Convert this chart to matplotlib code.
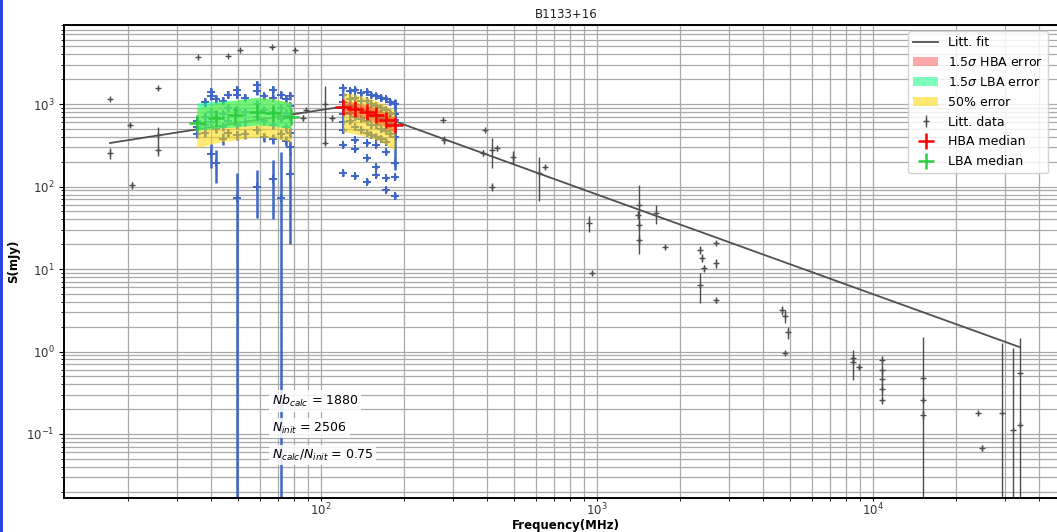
import matplotlib
matplotlib.use("Agg")
import numpy as np
import matplotlib.pyplot as plt
from matplotlib.patches import Patch, Rectangle
from matplotlib.lines import Line2D

# ---- literature spectrum fit (log-log nodes, MHz / mJy) ----
fit_freq = [17.2, 60, 100, 125, 150, 200, 1000, 34000]
fit_flux = [337, 649, 848, 946, 810, 563, 80, 1.13]

# ---- literature flux densities ----
lit_freq = [17.2, 17.2, 20.3, 20.6, 25.6, 25.6, 25.6, 35.8, 46, 50.9, 66.4, 80.5,
            103, 103, 109.6, 86, 88, 277, 280, 393, 417, 385, 434, 417, 496, 617, 649,
            935, 960, 1419, 1419, 1419, 1408, 1637, 1763, 2361, 2400, 2440, 2361,
            2697, 2697, 2697, 4680, 4800, 4920, 4800, 8470, 8470, 8870,
            10800, 10800, 10800, 10800, 10800, 15200, 15200, 15200,
            24000, 24800, 29300, 32100, 34100, 34100]
lit_flux = [1150, 255, 555, 104, 1560, 421, 277, 3710, 3820, 4520, 4910, 4520,
            1000, 337, 677, 677, 846, 640, 366, 484, 277, 255, 293, 99, 228, 146, 172,
            36, 8.9, 60, 34, 22.5, 45, 47.6, 18.4, 17.2, 13.6, 10.3, 6.4,
            20.6, 11.8, 4.2, 3.2, 2.7, 1.7, 0.96, 0.83, 0.75, 0.65,
            0.79, 0.6, 0.46, 0.35, 0.26, 0.48, 0.26, 0.17,
            0.18, 0.068, 0.18, 0.113, 0.55, 0.13]
lit_err = [20, 40, 30, 10, 60, 110, 40, 100, 100, 150, 200, 150,
           650, 20, 60, 50, 40, 20, 40, 20, 110, 20, 20, 10, 40, 80, 10,
           8, 0.5, 45, 5, 3, 5, 12, 1, 2, 1.5, 1, 2.5,
           1, 1.5, 0.3, 0.4, 0.5, 0.3, 0.05, 0.1, 0.3, 0.05,
           0.1, 0.08, 0.1, 0.06, 0.03, 1.0, 0.02, 0.02,
           0.01, 0.005, 1.1, 1.0, 0.9, 0.01]

# ---- LBA measurements ----
lba_freq = ([35.5] * 3 + [38] * 4 + [40] * 5 + [41.7] * 4 + [44] * 4 + [46] * 4 +
            [49.6] * 6 + [53] * 4 + [58.7] * 6 + [62] * 4 + [67] * 6 + [71.6] * 5 +
            [74.5] * 4 + [77] * 6)
lba_flux = [620, 520, 430,
            1050, 700, 560, 450,
            1400, 1250, 800, 600, 250,
            1150, 700, 500, 195,
            1100, 750, 530, 380,
            1300, 900, 620, 450,
            1500, 1300, 850, 560, 420, 72,
            1200, 800, 600, 430,
            1700, 1450, 1000, 700, 480, 100,
            1250, 850, 620, 400,
            1500, 1200, 800, 560, 380, 125,
            1300, 900, 650, 430, 72,
            1150, 780, 520, 360,
            1250, 950, 700, 450, 300, 140]
lba_err = [60, 50, 40,
           120, 70, 60, 50,
           150, 130, 80, 60, 80,
           120, 80, 60, 85,
           120, 70, 60, 60,
           130, 90, 60, 50,
           150, 120, 80, 60, 50, 74,
           120, 80, 60, 50,
           180, 150, 100, 70, 50, 58,
           120, 80, 60, 50,
           150, 120, 80, 60, 50, 85,
           130, 90, 60, 50, 190,
           120, 80, 60, 50,
           130, 100, 70, 60, 60, 120]

# ---- HBA measurements ----
hba_freq = ([120] * 9 + [127] * 5 + [133] * 8 + [140] * 5 + [147] * 8 + [152] * 5 +
            [158] * 8 + [165] * 5 + [172] * 8 + [178] * 4 + [185] * 8)
hba_flux = [1550, 1300, 1050, 900, 750, 600, 480, 318, 146,
            1450, 1150, 950, 780, 620,
            1500, 1200, 900, 700, 520, 366, 285, 134,
            1350, 1100, 850, 650, 480,
            1400, 1100, 800, 620, 450, 337, 222, 114,
            1300, 1000, 750, 560, 420,
            1250, 950, 720, 560, 400, 318, 172, 138,
            1200, 900, 680, 500, 380,
            1150, 850, 620, 470, 350, 262, 127, 91,
            1050, 780, 580, 430,
            1000, 750, 550, 400, 640, 193, 130, 77]
hba_err = [120, 100, 80, 70, 60, 50, 40, 15, 10,
           110, 90, 70, 60, 50,
           120, 90, 70, 60, 40, 15, 12, 8,
           100, 80, 70, 50, 40,
           110, 90, 60, 50, 40, 15, 10, 8,
           100, 80, 60, 45, 35,
           100, 80, 60, 45, 35, 15, 10, 8,
           100, 80, 55, 40, 30,
           100, 75, 50, 40, 30, 12, 8, 6,
           90, 70, 50, 35,
           150, 65, 45, 35, 480, 10, 8, 6]

# ---- medians and 1.5 sigma envelopes ----
lba_med_freq = [35.5, 41.5, 49, 58.5, 67, 78]
lba_med = [588, 677, 736, 800, 778, 695]
lba_lo = [480, 510, 526, 557, 540, 505]
lba_hi = [1030, 1080, 1120, 1210, 1150, 1030]

hba_med_freq = [120, 133, 147, 158, 172, 185]
hba_med = [920, 870, 800, 736, 640, 557]
hba_lo = [760, 720, 660, 600, 520, 450]
hba_hi = [1100, 1040, 960, 890, 780, 690]

n_calc = 1880
n_init = 2506

# ---- styling ----
BLUE = "#3f66c6"
GREY = "#4d4d4d"
C_HBA = "red"
C_LBA = "springgreen"
C_50 = "gold"

W, H = 1057, 532
fig = plt.figure(figsize=(W / 100, H / 100), dpi=100)
fig.patch.set_facecolor("white")
ax = fig.add_axes([64 / W, 34 / H, (1067.6 - 64) / W, 473 / H])
ax.set_xscale("log", nonpositive="clip")
ax.set_yscale("log", nonpositive="clip")
ax.set_xlim(11.72, 50700)
ax.set_ylim(0.01675, 9080)

ax.set_axisbelow(True)
ax.grid(True, which="both", color="#a9a9a9", lw=0.9)

# fit
ax.plot(fit_freq, fit_flux, color="#505050", lw=1.3, zorder=2)

# individual measurements
ax.errorbar(lba_freq, lba_flux, yerr=lba_err, fmt="+", color=BLUE, ms=5.5,
            mew=1.4, elinewidth=1.8, capsize=0, zorder=2)
ax.errorbar(hba_freq, hba_flux, yerr=hba_err, fmt="+", color=BLUE, ms=5.5,
            mew=1.4, elinewidth=1.8, capsize=0, zorder=2)
lit = ax.errorbar(lit_freq, lit_flux, yerr=lit_err, fmt="+", color=GREY, ms=5,
                  mew=1.0, elinewidth=1.0, capsize=0, zorder=2)

# envelopes
lba_mid = np.array(lba_med, dtype=float)
hba_mid = np.array(hba_med, dtype=float)
ax.fill_between(lba_med_freq, 0.5 * lba_mid, 1.5 * lba_mid, color=C_50,
                alpha=0.55, lw=0, zorder=3)
ax.fill_between(hba_med_freq, 0.5 * hba_mid, 1.5 * hba_mid, color=C_50,
                alpha=0.55, lw=0, zorder=3)
ax.fill_between(lba_med_freq, lba_lo, lba_hi, color=C_LBA, alpha=0.55,
                lw=0, zorder=3)
ax.fill_between(hba_med_freq, hba_lo, hba_hi, color=C_HBA, alpha=0.35,
                lw=0, zorder=3)

# medians
ax.plot(hba_med_freq, hba_med, "+", color="red", ms=11, mew=1.8, zorder=5)
ax.plot(lba_med_freq, lba_med, "+", color="#2ecc40", ms=11, mew=1.8, zorder=5)

# labels
ax.set_title("B1133+16", fontsize=8.5, color="#222222", pad=5)
ax.set_xlabel("Frequency(MHz)", fontsize=8.5, fontweight="bold")
ax.xaxis.set_label_coords(0.5, -20.5 / 473)
ax.set_ylabel("S(mJy)", fontsize=8.5, fontweight="bold", labelpad=4)
ax.tick_params(which="both", labelsize=8.5, labelcolor="#333333")
ax.tick_params(which="major", length=3.5)
ax.tick_params(which="minor", length=2)
ax.tick_params(axis="x", which="major", length=2.5, pad=0)
for s in ax.spines.values():
    s.set_linewidth(1.4)

# counters
box = dict(facecolor="white", edgecolor="none", alpha=0.85, pad=2)
ax.text(0.2075, 0.205, r"$Nb_{calc}$ = %d" % n_calc, transform=ax.transAxes,
        fontsize=9, va="center", ha="left", bbox=box, zorder=6)
ax.text(0.2075, 0.148, r"$N_{init}$ = %d" % n_init, transform=ax.transAxes,
        fontsize=9, va="center", ha="left", bbox=box, zorder=6)
ax.text(0.2075, 0.091, r"$N_{calc}/N_{init}$ = %.2f" % (n_calc / n_init),
        transform=ax.transAxes, fontsize=9, va="center", ha="left", bbox=box,
        zorder=6)

# legend
handles = [
    Line2D([], [], color="#505050", lw=1.3),
    Patch(facecolor=C_HBA, alpha=0.35, lw=0),
    Patch(facecolor=C_LBA, alpha=0.5, lw=0),
    Patch(facecolor=C_50, alpha=0.55, lw=0),
    lit,
    Line2D([], [], ls="none", marker="+", color="red", ms=11, mew=1.8),
    Line2D([], [], ls="none", marker="+", color="#2ecc40", ms=11, mew=1.8),
]
labels = ["Litt. fit", r"1.5$\sigma$ HBA error", r"1.5$\sigma$ LBA error",
          "50% error", "Litt. data", "HBA median", "LBA median"]
leg = ax.legend(handles, labels, loc="upper left",
                bbox_to_anchor=(908 / W, 1 - 31 / H), bbox_transform=fig.transFigure,
                borderaxespad=0, fontsize=9, labelspacing=0.55, framealpha=0.85,
                edgecolor="#cccccc")
leg.set_zorder(10)

# blue strip on the left edge
fig.patches.append(Rectangle((0, 0), 3 / W, 1, transform=fig.transFigure,
                             facecolor="#2b45e0", edgecolor="none", zorder=20))

fig.savefig("out.png", dpi=100)
